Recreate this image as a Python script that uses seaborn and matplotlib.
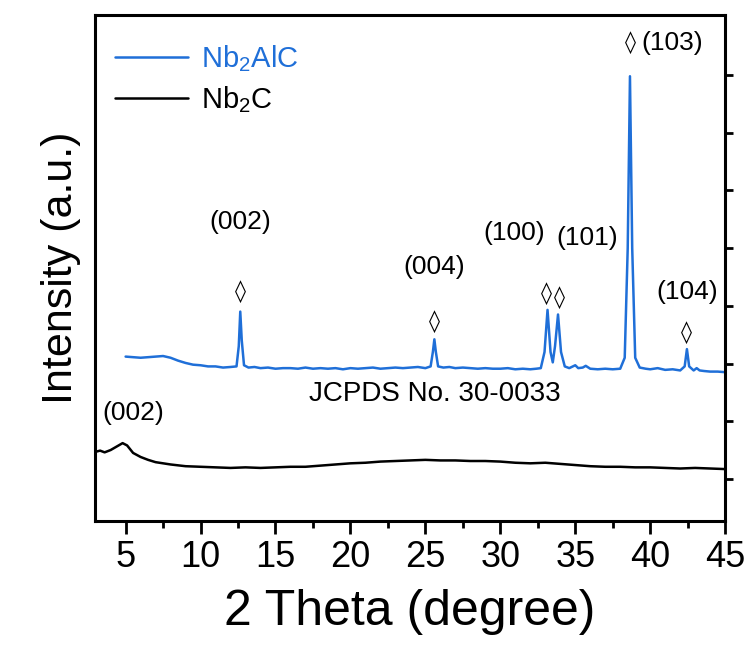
import numpy as np
import pandas as pd
import matplotlib
matplotlib.use("Agg")
import matplotlib.pyplot as plt
from matplotlib.ticker import MultipleLocator, FixedLocator, NullFormatter
import seaborn as sns

# ---------------- data ----------------
nb2alc_x = [5.0, 5.5, 6.0, 6.5, 7.0, 7.5, 8.0, 8.5, 9.0, 9.5, 10.0, 10.5, 11.0, 11.5,
            12.0, 12.4, 12.55, 12.65, 12.75, 12.9, 13.2, 13.6, 14.0, 14.5, 15.0, 15.5,
            16.0, 16.5, 17.0, 17.5, 18.0, 18.5, 19.0, 19.5, 20.0, 20.5, 21.0, 21.5,
            22.0, 22.5, 23.0, 23.5, 24.0, 24.5, 25.0, 25.35, 25.5, 25.6, 25.7, 25.85,
            26.2, 26.6, 27.0, 27.5, 28.0, 28.5, 29.0, 29.5, 30.0, 30.5, 31.0, 31.5,
            32.0, 32.4, 32.7, 32.95, 33.15, 33.35, 33.5, 33.65, 33.85, 34.05, 34.3,
            34.6, 35.0, 35.2, 35.5, 35.7, 36.0, 36.5, 37.0, 37.5, 38.0, 38.3, 38.5,
            38.65, 38.8, 39.0, 39.3, 39.7, 40.0, 40.5, 41.0, 41.5, 42.0, 42.3, 42.45,
            42.6, 42.9, 43.1, 43.3, 43.6, 44.0, 44.5, 45.0]
nb2alc_y = [3.12, 3.11, 3.10, 3.11, 3.12, 3.13, 3.10, 3.05, 3.01, 2.98, 2.97, 2.95, 2.95, 2.93,
            2.94, 2.95, 3.30, 3.90, 3.40, 2.97, 2.93, 2.94, 2.92, 2.93, 2.91, 2.92,
            2.92, 2.91, 2.93, 2.91, 2.92, 2.91, 2.92, 2.90, 2.92, 2.91, 2.92, 2.93,
            2.91, 2.92, 2.93, 2.92, 2.93, 2.94, 2.92, 2.95, 3.20, 3.42, 3.20, 2.95,
            2.93, 2.94, 2.92, 2.93, 2.92, 2.91, 2.92, 2.91, 2.91, 2.92, 2.90, 2.91,
            2.90, 2.91, 2.92, 3.20, 3.93, 3.20, 3.02, 3.30, 3.85, 3.20, 2.95,
            2.92, 2.97, 2.92, 2.93, 2.96, 2.91, 2.90, 2.91, 2.90, 2.91, 3.10, 5.00,
            7.98, 5.00, 3.10, 2.93, 2.91, 2.90, 2.92, 2.89, 2.90, 2.88, 2.95, 3.25,
            2.95, 2.88, 2.92, 2.88, 2.87, 2.86, 2.86, 2.85]

nb2c_x = [3.0, 3.3, 3.6, 4.0, 4.4, 4.8, 5.1, 5.5, 6.0, 6.5, 7.0, 7.5, 8.0, 9.0, 10.0,
          11.0, 12.0, 13.0, 14.0, 15.0, 16.0, 17.0, 18.0, 19.0, 20.0, 21.0, 22.0,
          23.0, 24.0, 25.0, 26.0, 27.0, 28.0, 29.0, 30.0, 31.0, 32.0, 33.0, 34.0,
          35.0, 36.0, 37.0, 38.0, 39.0, 40.0, 41.0, 42.0, 43.0, 44.0, 45.0]
nb2c_y = [1.47, 1.49, 1.46, 1.50, 1.56, 1.62, 1.58, 1.45, 1.38, 1.33, 1.29, 1.27, 1.25, 1.22, 1.21,
          1.20, 1.19, 1.20, 1.19, 1.20, 1.21, 1.21, 1.23, 1.25, 1.27, 1.28, 1.30,
          1.31, 1.32, 1.33, 1.32, 1.32, 1.31, 1.31, 1.30, 1.28, 1.27, 1.28, 1.26,
          1.24, 1.22, 1.21, 1.21, 1.20, 1.20, 1.19, 1.18, 1.19, 1.18, 1.17]

x_ticks = [5, 10, 15, 20, 25, 30, 35, 40, 45]
y_ticks = [1, 2, 3, 4, 5, 6, 7, 8]

peak_labels = ["(002)", "(004)", "(100)", "(101)", "(104)"]
peak_pos = [12.65, 25.6, 33.1, 33.95, 42.45]

BLUE = "#1f6fd8"

df = pd.concat([
    pd.DataFrame({"x": nb2alc_x, "y": nb2alc_y, "s": "Nb$_2$AlC"}),
    pd.DataFrame({"x": nb2c_x, "y": nb2c_y, "s": "Nb$_2$C"}),
])

sns.set_theme(style="ticks")
plt.rcParams["font.family"] = ["Liberation Sans", "DejaVu Sans"]
plt.rcParams["mathtext.fontset"] = "custom"
plt.rcParams["mathtext.rm"] = "Liberation Sans"
plt.rcParams["mathtext.it"] = "Liberation Sans"
plt.rcParams["text.color"] = "black"
plt.rcParams["axes.labelcolor"] = "black"
plt.rcParams["xtick.color"] = "black"
plt.rcParams["ytick.color"] = "black"

fig = plt.figure(figsize=(7.53, 6.57), dpi=100)
ax = fig.add_axes([0.126, 0.207, 0.837, 0.770])

sns.lineplot(data=df, x="x", y="y", hue="s", palette={"Nb$_2$AlC": BLUE, "Nb$_2$C": "black"},
             estimator=None, sort=True, ax=ax, linewidth=1.8)

ax.set_xlim(2.95, 45)
ax.set_ylim(0.27, 9.04)

ax.xaxis.set_major_locator(FixedLocator(x_ticks))
ax.xaxis.set_minor_locator(MultipleLocator(2.5))
ax.yaxis.tick_right()
ax.yaxis.set_major_locator(FixedLocator(y_ticks))
ax.yaxis.set_major_formatter(NullFormatter())
ax.tick_params(axis="x", which="major", length=9, width=2, labelsize=26, direction="out", pad=5)
ax.tick_params(axis="x", which="minor", length=5, width=2, direction="out")
ax.tick_params(axis="y", which="major", length=6, width=2, right=True, left=False)
for sp in ax.spines.values():
    sp.set_visible(True)
    sp.set_linewidth(2.2)
    sp.set_color("black")

ax.set_xlabel("2 Theta (degree)", fontsize=36, labelpad=10)
ax.set_ylabel("Intensity (a.u.)", fontsize=31, labelpad=10)
ax.yaxis.set_label_position("left")

# legend
leg = ax.legend(loc="upper left", frameon=False, fontsize=21, handlelength=2.5,
                handletextpad=0.45, borderaxespad=0.3, bbox_to_anchor=(0.0, 0.985), labelspacing=0.35)
for t, c in zip(leg.get_texts(), [BLUE, "black"]):
    t.set_color(c)
for h in leg.get_lines():
    h.set_linewidth(1.8)

# annotations
fs = 19
dfs = 16
diamond_y = [4.25, 3.73, 4.22, 4.15, 3.53]
label_y = [5.46, 4.68, 5.26, 5.17, 4.24]
label_x = [12.65, 25.6, 30.9, 35.8, 42.45]
for lab, px, dy, ly, lx in zip(peak_labels, peak_pos, diamond_y, label_y, label_x):
    ax.text(px, dy, "\u25CA", ha="center", va="center", fontsize=dfs, family=["DejaVu Sans"])
    ax.text(lx, ly, lab, ha="center", va="center", fontsize=fs)

ax.text(38.65, 8.56, "\u25CA", ha="center", va="center", fontsize=dfs, family=["DejaVu Sans"])
ax.text(39.4, 8.56, "(103)", ha="left", va="center", fontsize=fs)
ax.text(25.6, 2.48, "JCPDS No. 30-0033", ha="center", va="center", fontsize=20)
ax.text(5.5, 2.14, "(002)", ha="center", va="center", fontsize=fs)

fig.savefig("out.png", dpi=100)
